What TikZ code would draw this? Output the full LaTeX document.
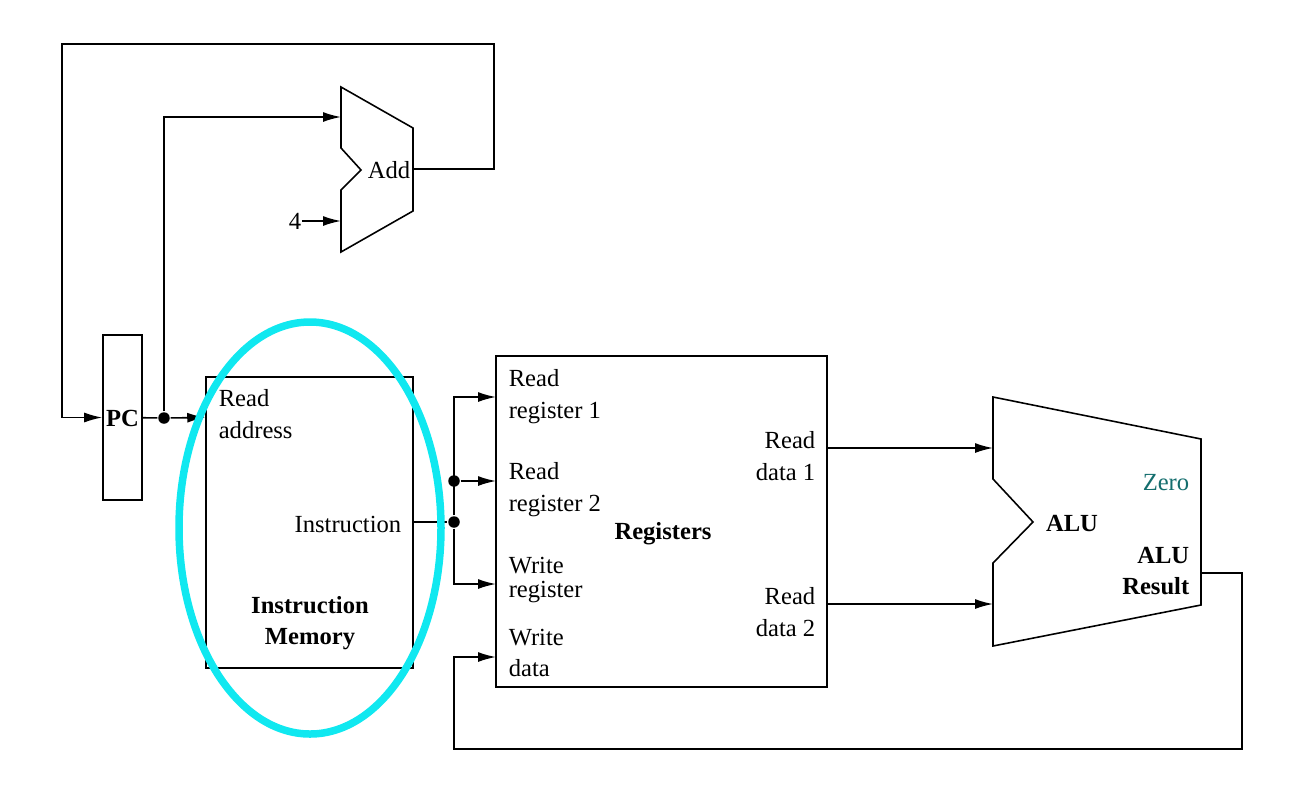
\documentclass[tikz,border=0pt]{standalone}
\usepackage{fontspec}
\setmainfont{Liberation Serif}
\usetikzlibrary{arrows.meta}
\definecolor{zerocol}{RGB}{20,110,110}
\definecolor{ringcol}{RGB}{16,232,240}
\begin{document}
\begin{tikzpicture}[x=0.02cm, y=-0.02cm, line width=0.9pt,
  >={Latex[length=0.36cm, width=0.2cm]},
  lbl/.style={inner sep=0pt, font=\fontsize{14}{18}\selectfont},
  blbl/.style={lbl, font=\fontsize{14}{18}\selectfont\bfseries},
  dot/.style={circle, fill, inner sep=0pt, minimum size=0.23cm}]
\useasboundingbox (0,0) rectangle (1300,788);

% blocks
\node[draw, inner sep=0pt, minimum width=0.78cm, minimum height=3.3cm] (pc) at (122.5,417.5){};
\node[blbl] (pclbl) at (122.5,418){PC};
\node[draw, inner sep=0pt, minimum width=4.14cm, minimum height=5.82cm] (mem) at (309.5,522.5){};
\node[draw, inner sep=0pt, minimum width=6.62cm, minimum height=6.62cm] (regs) at (661.5,521.5){};

% adder and alu
\draw (341,87) -- (413,128) -- (413,211) -- (341,252) -- (341,190) -- (361,170) -- (341,148) -- cycle;
\draw (993,397) -- (1201,439) -- (1201,605) -- (993,646) -- (993,563) -- (1033,522) -- (993,479) -- cycle;
\node[lbl] (addlbl) at (389,170){Add};
\node[blbl] (alulbl) at (1072,523){ALU};

% labels
\node[lbl, align=left, anchor=north west] (rdaddr) at (218,389){Read\\address};
\node[lbl, anchor=base east] (inst) at (402,532){Instruction};
\node[blbl, align=center] (memlbl) at (310,623){Instruction\\Memory};
\node[lbl, align=left, anchor=north west] (rr1lbl) at (508,369){Read\\register 1};
\node[lbl, align=left, anchor=north west] (rr2lbl) at (508,462){Read\\register 2};
\node[lbl, align=left, anchor=north west] (wrlbl) at (508,556){Write\\[-4pt]register};
\node[lbl, align=left, anchor=north west] (wdlbl) at (508,628){Write\\data};
\node[lbl, align=right, anchor=north east] (rd1lbl) at (816,431){Read\\data 1};
\node[lbl, align=right, anchor=north east] (rd2lbl) at (816,587){Read\\data 2};
\node[blbl] (reglbl) at (663,534){Registers};
\node[lbl, text=zerocol, anchor=base east] (zero) at (1190,490){Zero};
\node[blbl, align=right, anchor=north east] (reslbl) at (1190,546){ALU\\Result};
\node[lbl] (four) at (295,221){4};

% ports
\coordinate (addin1) at (341,117);
\coordinate (addin2) at (341,221);
\coordinate (addout) at (413,169);
\coordinate (tr) at (494,44);
\coordinate (tl) at (62,44);
\coordinate (instout) at (413,522);
\coordinate (rr1) at (496,397);
\coordinate (rr2) at (496,481);
\coordinate (wreg) at (496,584);
\coordinate (wdata) at (496,657);
\coordinate (rd1) at (827,448);
\coordinate (rd2) at (827,604);
\coordinate (alu1) at (993,448);
\coordinate (alu2) at (993,604);
\coordinate (resout) at (1201,573);
\coordinate (br) at (1242,749);
\coordinate (bl) at (454,749);
\node[dot] (pcdot) at (164,418){};
\node[dot] (idot1) at (454,481){};
\node[dot] (idot2) at (454,522){};

% wires
\draw[->] (addout) -| (tr) -- (tl) |- (pc);
\draw (pc) -- (pcdot);
\draw[->] (pcdot) -- (mem.west |- pc);
\draw[->] (pcdot) |- (addin1);
\draw[->] (four) -- (addin2);
\draw (instout) -- (idot2);
\draw[->] (idot2) |- (rr1);
\draw[->] (idot1) -- (rr2);
\draw[->] (idot2) |- (wreg);
\draw[->] (rd1) -- (alu1);
\draw[->] (rd2) -- (alu2);
\draw[->] (resout) -| (br) -- (bl) |- (wdata);

% highlight
\draw[ringcol, line width=0.15cm] (310,528) ellipse [x radius=131, y radius=206];
\end{tikzpicture}
\end{document}
